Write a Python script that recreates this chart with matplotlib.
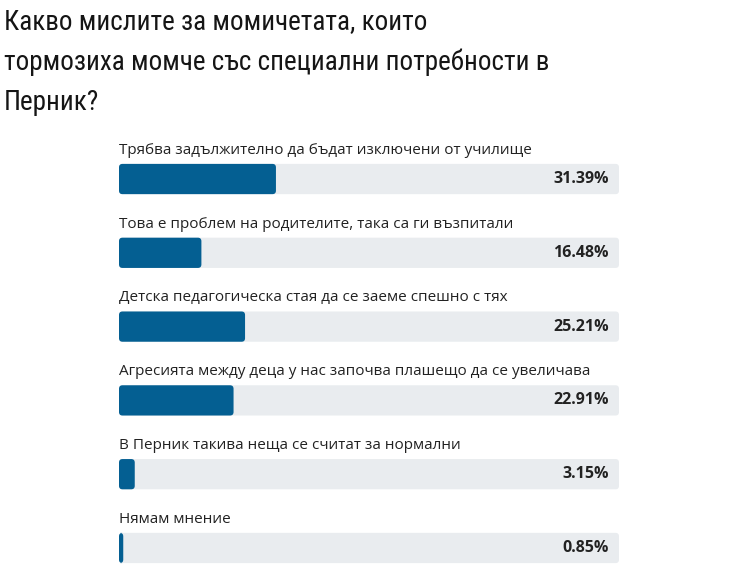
import matplotlib
matplotlib.use("Agg")
import matplotlib.pyplot as plt
from matplotlib import font_manager
from matplotlib.patches import FancyBboxPatch

title_lines = ["Какво мислите за момичетата, които",
               "тормозиха момче със специални потребности в",
               "Перник?"]
answers = ["Трябва задължително да бъдат изключени от училище",
           "Това е проблем на родителите, така са ги възпитали",
           "Детска педагогическа стая да се заеме спешно с тях",
           "Агресията между деца у нас започва плашещо да се увеличава",
           "В Перник такива неща се считат за нормални",
           "Нямам мнение"]
percents = [31.39, 16.48, 25.21, 22.91, 3.15, 0.85]

W, H = 737, 573
fig = plt.figure(figsize=(W / 100, H / 100), dpi=100)
fig.patch.set_facecolor("white")

# the original title is set in a condensed face; use one if it is installed
names = {f.name for f in font_manager.fontManager.ttflist}
condensed = [n for n in ("Roboto Condensed", "Liberation Sans Narrow", "Open Sans Condensed")
             if n in names]
if condensed:
    title_family, title_size = [condensed[0], "DejaVu Sans"], 19.5
else:
    title_family, title_size = ["Roboto", "DejaVu Sans"], 17.5

for i, line in enumerate(title_lines):
    fig.text(4 / W, 1 - (22 + 40 * i) / H, line, fontsize=title_size,
             family=title_family, color="#151515", va="center", ha="left")

# axes covering bar area: x 119..619 px, y 116..574 px
left, right = 119, 619
top, bottom = 116.3, 573.8
ax = fig.add_axes([left / W, 1 - bottom / H, (right - left) / W, (bottom - top) / H])
ax.set_xlim(0, 100)
ax.set_ylim(5.35, -0.85)
ax.axis("off")

ys = list(range(len(answers)))
bg = ax.barh(ys, [100] * len(ys), height=0.41, color="#e9ecef")
fg = ax.barh(ys, percents, height=0.41, color="#045f92")

# swap plain bars for rounded ones (radius ~4px)
for bars in (bg, fg):
    for b in bars:
        b.set_visible(False)
        rb = FancyBboxPatch((b.get_x(), b.get_y()), b.get_width(), b.get_height(),
                            boxstyle="round,pad=0,rounding_size=0.7",
                            mutation_aspect=0.068,
                            facecolor=b.get_facecolor(), edgecolor="none")
        ax.add_patch(rb)

for y, a, p in zip(ys, answers, percents):
    ax.text(0, y - 0.39, a, fontsize=11, family="Open Sans", color="#222222",
            va="center", ha="left")
    ax.text(98, y, f"{p:.2f}%", fontsize=11.5, family="Open Sans",
            fontweight="bold", color="#222222", va="center", ha="right")

fig.savefig("out.png", dpi=100)
